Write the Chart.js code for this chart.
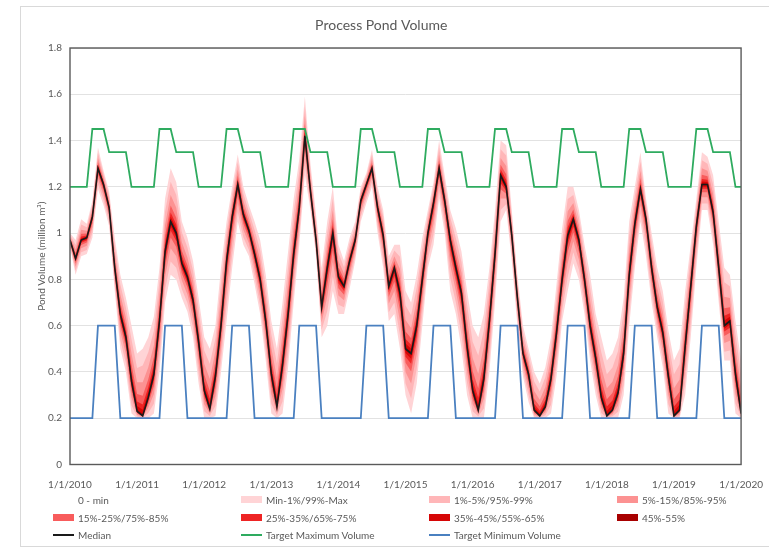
<!DOCTYPE html>
<html lang="en">
<head>
<meta charset="UTF-8">
<title>Process Pond Volume</title>
<script src="https://cdn.jsdelivr.net/npm/chart.js"></script>
<style>
    body { margin: 0; background: #fff; font-family: Lato, sans-serif; }
    .quadro { position: relative; width: 769px; height: 548px; overflow: hidden; }
    .moldura { position: absolute; left: 20px; top: 6px; width: 780px; height: 541px; border: 1px solid #d9d9d9; box-sizing: border-box; }
    canvas { position: absolute; left: 0; top: 0; }
    #legenda { position: absolute; left: 53px; top: 491px; display: grid; grid-template-columns: 188px 188px 188px 140px; grid-auto-rows: 17.8px; font-size: 10px; color: #595959; }
    .item { display: flex; align-items: center; white-space: nowrap; }
    .cor { width: 21px; margin-right: 4px; }
</style>
</head>
<body>
<div class="quadro">
    <div class="moldura"></div>
    <canvas id="grafico" width="769" height="548"></canvas>
    <div id="legenda"></div>
</div>
<script>
// one value per month, 1/1/2010 .. 1/1/2020
const mediana = [
    0.97, 0.89, 0.97, 0.98, 1.07, 1.28, 1.21, 1.11, 0.85, 0.65, 0.55, 0.36,
    0.23, 0.21, 0.29, 0.39, 0.62, 0.92, 1.05, 1.00, 0.87, 0.81, 0.71, 0.53,
    0.32, 0.24, 0.38, 0.60, 0.88, 1.07, 1.21, 1.08, 1.01, 0.91, 0.80, 0.62,
    0.39, 0.25, 0.43, 0.65, 0.91, 1.11, 1.42, 1.18, 0.97, 0.68, 0.85, 1.00,
    0.81, 0.77, 0.88, 0.97, 1.14, 1.21, 1.28, 1.11, 0.99, 0.77, 0.85, 0.74,
    0.50, 0.48, 0.60, 0.80, 1.00, 1.13, 1.28, 1.14, 0.97, 0.85, 0.74, 0.51,
    0.32, 0.235, 0.37, 0.62, 0.91, 1.25, 1.20, 0.99, 0.72, 0.48, 0.39, 0.235,
    0.21, 0.25, 0.37, 0.57, 0.80, 0.99, 1.06, 0.97, 0.80, 0.60, 0.46, 0.29,
    0.21, 0.235, 0.31, 0.48, 0.82, 1.04, 1.19, 1.06, 0.85, 0.68, 0.57, 0.38,
    0.21, 0.235, 0.51, 0.77, 1.03, 1.21, 1.21, 1.09, 0.85, 0.60, 0.62, 0.39,
    0.22
]
const minimo = [
    0.94, 0.82, 0.90, 0.91, 0.98, 1.19, 1.12, 1.03, 0.75, 0.50, 0.40, 0.22,
    0.20, 0.20, 0.20, 0.22, 0.40, 0.70, 0.82, 0.80, 0.72, 0.66, 0.55, 0.35,
    0.20, 0.20, 0.21, 0.40, 0.62, 0.85, 1.05, 0.95, 0.90, 0.78, 0.65, 0.45,
    0.22, 0.20, 0.22, 0.42, 0.70, 0.95, 1.25, 1.10, 0.90, 0.55, 0.60, 0.75,
    0.65, 0.65, 0.76, 0.88, 1.05, 1.13, 1.20, 1.00, 0.85, 0.62, 0.65, 0.50,
    0.30, 0.22, 0.35, 0.60, 0.85, 0.95, 1.15, 1.00, 0.75, 0.65, 0.50, 0.30,
    0.20, 0.20, 0.20, 0.40, 0.70, 1.05, 1.10, 0.88, 0.60, 0.38, 0.27, 0.20,
    0.20, 0.20, 0.22, 0.38, 0.62, 0.75, 0.87, 0.80, 0.65, 0.45, 0.30, 0.20,
    0.20, 0.20, 0.20, 0.30, 0.60, 0.85, 1.05, 0.90, 0.70, 0.55, 0.42, 0.22,
    0.20, 0.20, 0.30, 0.55, 0.85, 1.10, 1.10, 0.95, 0.70, 0.45, 0.45, 0.22,
    0.20
]
const maximo = [
    1.00, 0.97, 1.06, 1.04, 1.14, 1.37, 1.27, 1.18, 0.98, 0.82, 0.72, 0.60,
    0.48, 0.50, 0.55, 0.64, 0.85, 1.15, 1.28, 1.22, 1.05, 0.98, 0.88, 0.72,
    0.55, 0.50, 0.60, 0.85, 1.05, 1.20, 1.34, 1.20, 1.12, 1.05, 0.97, 0.82,
    0.62, 0.50, 0.70, 0.92, 1.15, 1.32, 1.59, 1.30, 1.08, 0.85, 1.05, 1.20,
    0.95, 0.88, 0.98, 1.05, 1.20, 1.26, 1.36, 1.20, 1.10, 0.90, 0.95, 0.95,
    0.75, 0.70, 0.82, 0.98, 1.10, 1.22, 1.40, 1.25, 1.10, 1.02, 0.92, 0.75,
    0.60, 0.55, 0.65, 0.85, 1.10, 1.40, 1.38, 1.10, 0.82, 0.60, 0.50, 0.40,
    0.35, 0.42, 0.55, 0.78, 1.02, 1.20, 1.20, 1.10, 0.95, 0.82, 0.65, 0.55,
    0.45, 0.48, 0.55, 0.72, 1.05, 1.20, 1.35, 1.15, 1.00, 0.85, 0.75, 0.58,
    0.45, 0.50, 0.75, 0.95, 1.15, 1.35, 1.33, 1.25, 1.05, 0.85, 0.82, 0.62,
    0.45
]
const metaMaxima = [
    1.2, 1.2, 1.2, 1.2, 1.45, 1.45, 1.45, 1.35, 1.35, 1.35, 1.35, 1.2,
    1.2, 1.2, 1.2, 1.2, 1.45, 1.45, 1.45, 1.35, 1.35, 1.35, 1.35, 1.2,
    1.2, 1.2, 1.2, 1.2, 1.45, 1.45, 1.45, 1.35, 1.35, 1.35, 1.35, 1.2,
    1.2, 1.2, 1.2, 1.2, 1.45, 1.45, 1.45, 1.35, 1.35, 1.35, 1.35, 1.2,
    1.2, 1.2, 1.2, 1.2, 1.45, 1.45, 1.45, 1.35, 1.35, 1.35, 1.35, 1.2,
    1.2, 1.2, 1.2, 1.2, 1.45, 1.45, 1.45, 1.35, 1.35, 1.35, 1.35, 1.2,
    1.2, 1.2, 1.2, 1.2, 1.45, 1.45, 1.45, 1.35, 1.35, 1.35, 1.35, 1.2,
    1.2, 1.2, 1.2, 1.2, 1.45, 1.45, 1.45, 1.35, 1.35, 1.35, 1.35, 1.2,
    1.2, 1.2, 1.2, 1.2, 1.45, 1.45, 1.45, 1.35, 1.35, 1.35, 1.35, 1.2,
    1.2, 1.2, 1.2, 1.2, 1.45, 1.45, 1.45, 1.35, 1.35, 1.35, 1.35, 1.2,
    1.2
]
const metaMinima = [
    0.2, 0.2, 0.2, 0.2, 0.2, 0.6, 0.6, 0.6, 0.6, 0.2, 0.2, 0.2,
    0.2, 0.2, 0.2, 0.2, 0.2, 0.6, 0.6, 0.6, 0.6, 0.2, 0.2, 0.2,
    0.2, 0.2, 0.2, 0.2, 0.2, 0.6, 0.6, 0.6, 0.6, 0.2, 0.2, 0.2,
    0.2, 0.2, 0.2, 0.2, 0.2, 0.6, 0.6, 0.6, 0.6, 0.2, 0.2, 0.2,
    0.2, 0.2, 0.2, 0.2, 0.2, 0.6, 0.6, 0.6, 0.6, 0.2, 0.2, 0.2,
    0.2, 0.2, 0.2, 0.2, 0.2, 0.6, 0.6, 0.6, 0.6, 0.2, 0.2, 0.2,
    0.2, 0.2, 0.2, 0.2, 0.2, 0.6, 0.6, 0.6, 0.6, 0.2, 0.2, 0.2,
    0.2, 0.2, 0.2, 0.2, 0.2, 0.6, 0.6, 0.6, 0.6, 0.2, 0.2, 0.2,
    0.2, 0.2, 0.2, 0.2, 0.2, 0.6, 0.6, 0.6, 0.6, 0.2, 0.2, 0.2,
    0.2, 0.2, 0.2, 0.2, 0.2, 0.6, 0.6, 0.6, 0.6, 0.2, 0.2, 0.2,
    0.2
]

// percentile bands, outermost first; share = how far each band reaches from the median towards min/max
const nomesFaixas = ['Min-1%/99%-Max', '1%-5%/95%-99%', '5%-15%/85%-95%', '15%-25%/75%-85%', '25%-35%/65%-75%', '35%-45%/55%-65%', '45%-55%']
const coresFaixas = ['#ffd4d6', '#ffb6b8', '#fc9292', '#f85c5c', '#ee2424', '#d60606', '#a80000']
const partesFaixas = [1, 0.75, 0.5, 0.3, 0.17, 0.09, 0.03]

const anoInicial = 2010

function pontos(valores) {
    return valores.map((v, i) => ({ x: i, y: v }))
}

const datasets = []
for (let k = 0; k < nomesFaixas.length; k++) {
    const parte = partesFaixas[k]
    const baixo = mediana.map((m, i) => m - parte * (m - minimo[i]))
    const alto = mediana.map((m, i) => m + parte * (maximo[i] - m))
    datasets.push({
        label: nomesFaixas[k] + ' (low)',
        data: pontos(baixo),
        borderColor: 'transparent',
        borderWidth: 0,
        pointRadius: 0,
        fill: false,
        order: 100 - k
    })
    datasets.push({
        label: nomesFaixas[k],
        data: pontos(alto),
        borderColor: 'transparent',
        borderWidth: 0,
        pointRadius: 0,
        backgroundColor: coresFaixas[k],
        fill: '-1',
        order: 100 - k
    })
}
datasets.push({ label: 'Median', data: pontos(mediana), borderColor: '#1a1a1a', borderWidth: 1.6, pointRadius: 0, fill: false, order: 3 })
datasets.push({ label: 'Target Maximum Volume', data: pontos(metaMaxima), borderColor: '#2eab5f', borderWidth: 1.8, pointRadius: 0, fill: false, order: 2 })
datasets.push({ label: 'Target Minimum Volume', data: pontos(metaMinima), borderColor: '#4a80c0', borderWidth: 1.8, pointRadius: 0, fill: false, order: 1 })

const bordaPlot = {
    id: 'bordaPlot',
    afterDraw(chart) {
        const { ctx, chartArea } = chart
        ctx.save()
        ctx.strokeStyle = '#5a5a5a'
        ctx.lineWidth = 1.4
        ctx.strokeRect(chartArea.left, chartArea.top, chartArea.right - chartArea.left, chartArea.bottom - chartArea.top)
        ctx.restore()
    }
}

const cinza = '#595959'

new Chart(document.getElementById('grafico'), {
    type: 'line',
    data: { datasets: datasets },
    plugins: [bordaPlot],
    options: {
        responsive: false,
        animation: false,
        layout: { padding: { left: 20, right: 26.5, top: 3, bottom: 57.5 } },
        plugins: {
            legend: { display: false },
            tooltip: { enabled: false },
            title: {
                display: true,
                text: 'Process Pond Volume',
                color: cinza,
                font: { family: 'Lato', size: 14, weight: 'normal' },
                padding: { top: 14, bottom: 14.2 }
            }
        },
        scales: {
            x: {
                type: 'linear',
                min: 0,
                max: 120,
                grid: { display: false },
                border: { display: false },
                afterFit: (scale) => { scale.height = 26 },
                ticks: {
                    stepSize: 12,
                    maxRotation: 0,
                    padding: 6,
                    color: cinza,
                    font: { family: 'Lato', size: 10 },
                    callback: (v) => '1/1/' + (anoInicial + v / 12)
                }
            },
            y: {
                min: 0,
                max: 1.8,
                grid: { color: '#e2e2e2', drawTicks: false },
                border: { display: false },
                afterFit: (scale) => { scale.width = 50 },
                title: {
                    display: true,
                    text: 'Pond Volume (million m³)',
                    color: cinza,
                    font: { family: 'Lato', size: 10 },
                    padding: { top: 16, bottom: 0 }
                },
                ticks: {
                    stepSize: 0.2,
                    padding: 8,
                    color: cinza,
                    font: { family: 'Lato', size: 10 },
                    callback: (v) => String(parseFloat(v.toFixed(1)))
                }
            }
        }
    }
})

// legend in 4 columns, same order as the chart series
const legenda = document.getElementById('legenda')
const itens = [{ nome: '0 - min', cor: 'transparent', alt: 7 }]
for (let k = 0; k < nomesFaixas.length; k++) itens.push({ nome: nomesFaixas[k], cor: coresFaixas[k], alt: 7 })
itens.push({ nome: 'Median', cor: '#1a1a1a', alt: 2 })
itens.push({ nome: 'Target Maximum Volume', cor: '#2eab5f', alt: 2 })
itens.push({ nome: 'Target Minimum Volume', cor: '#4a80c0', alt: 2 })
for (const it of itens) {
    const div = document.createElement('div')
    div.className = 'item'
    div.innerHTML = `<span class="cor" style="height:${it.alt}px;background:${it.cor}"></span><span>${it.nome}</span>`
    legenda.appendChild(div)
}
</script>
</body>
</html>
